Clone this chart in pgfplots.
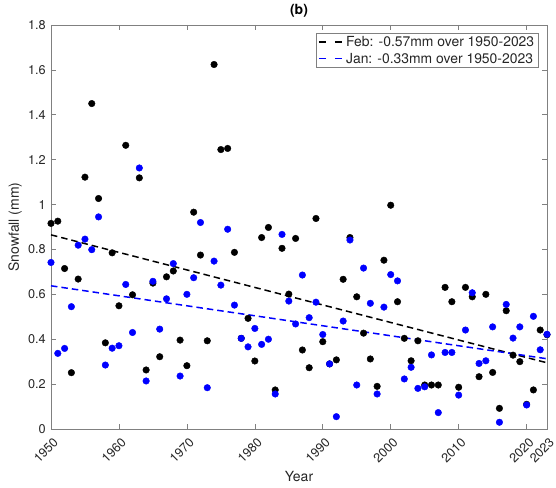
\documentclass[border=0pt]{standalone}
\usepackage{fontspec}
\setmainfont{TeX Gyre Heros}
\usepackage{pgfplots}
\usepackage{pgfplotstable}
\pgfplotsset{compat=1.18}
\definecolor{axgray}{RGB}{38,38,38}
\definecolor{mblue}{RGB}{0,0,255}

\pgfplotstableread{
year val
1950 0.916
1951 0.926
1952 0.715
1953 0.251
1954 0.668
1955 1.122
1956 1.450
1957 1.027
1958 0.384
1959 0.785
1960 0.549
1961 1.264
1962 0.598
1963 1.119
1964 0.263
1965 0.650
1966 0.322
1967 0.678
1968 0.704
1969 0.396
1970 0.282
1971 0.966
1972 0.775
1973 0.393
1974 1.624
1975 1.245
1976 1.250
1977 0.787
1978 0.404
1979 0.493
1980 0.303
1981 0.853
1982 0.898
1983 0.174
1984 0.805
1985 0.601
1986 0.849
1987 0.352
1988 0.273
1989 0.938
1990 0.389
1991 0.290
1992 0.308
1993 0.667
1994 0.853
1995 0.589
1996 0.427
1997 0.312
1998 0.190
1999 0.752
2000 0.997
2001 0.567
2002 0.404
2003 0.304
2004 0.393
2005 0.196
2006 0.196
2007 0.196
2008 0.631
2009 0.567
2010 0.186
2011 0.631
2012 0.589
2013 0.233
2014 0.600
2015 0.252
2016 0.092
2017 0.527
2018 0.329
2019 0.300
2020 0.110
2021 0.174
2022 0.441
2023 0.420
}\febdata

\pgfplotstableread{
year val
1950 0.742
1951 0.337
1952 0.359
1953 0.545
1954 0.819
1955 0.846
1956 0.799
1957 0.945
1958 0.285
1959 0.360
1960 0.371
1961 0.644
1962 0.430
1963 1.163
1964 0.214
1965 0.658
1966 0.445
1967 0.580
1968 0.737
1969 0.236
1970 0.600
1971 0.674
1972 0.920
1973 0.184
1974 0.748
1975 0.641
1976 0.890
1977 0.552
1978 0.404
1979 0.366
1980 0.448
1981 0.377
1982 0.400
1983 0.156
1984 0.867
1985 0.570
1986 0.468
1987 0.686
1988 0.496
1989 0.565
1990 0.421
1991 0.290
1992 0.055
1993 0.481
1994 0.842
1995 0.196
1996 0.717
1997 0.560
1998 0.156
1999 0.543
2000 0.688
2001 0.660
2002 0.223
2003 0.275
2004 0.181
2005 0.188
2006 0.330
2007 0.073
2008 0.341
2009 0.341
2010 0.151
2011 0.441
2012 0.607
2013 0.292
2014 0.304
2015 0.455
2016 0.030
2017 0.555
2018 0.405
2019 0.455
2020 0.107
2021 0.502
2022 0.353
2023 0.422
}\jandata

\begin{document}
\begin{tikzpicture}
\begin{axis}[
  scale only axis, width=496bp, height=404bp,
  at={(0,0)}, anchor=south west,
  xmin=1950, xmax=2023, ymin=0, ymax=1.8,
  clip=false,
  xtick={1950,1960,1970,1980,1990,2000,2010,2020,2023},
  xticklabels={1950,1960,1970,1980,1990,2000,2010,2020,2023},
  ytick={0,0.2,0.4,0.6,0.8,1,1.2,1.4,1.6,1.8},
  yticklabels={0,0.2,0.4,0.6,0.8,1,1.2,1.4,1.6,1.8},
  tick align=inside, major tick length=5bp,
  axis line style={draw=black!50, line width=0.6bp},
  every tick/.style={draw=black!50, line width=0.6bp},
  tick label style={font=\fontsize{12.7bp}{15bp}\selectfont, text=axgray},
  x tick label style={xshift=5bp, yshift=-11bp, rotate=45, anchor=east, inner sep=0pt},
  y tick label style={anchor=east, inner sep=0pt, xshift=-5bp},
  title={(b)},
  title style={at={(0.5,1)}, anchor=south, inner sep=0pt, yshift=2bp,
    font=\fontsize{14bp}{16bp}\selectfont\bfseries},
  xlabel={Year},
  xlabel style={at={(axis description cs:0.5,0)}, anchor=base, yshift=-52bp,
    font=\fontsize{14bp}{16bp}\selectfont, text=axgray},
  ylabel={Snowfall (mm)},
  ylabel style={font=\fontsize{14bp}{16bp}\selectfont, text=axgray, inner sep=2bp, yshift=4bp},
  legend style={at={(1,1)}, anchor=north east, xshift=-8bp, yshift=-8bp,
    draw=black!50, line width=0.6bp, fill=white,
    font=\fontsize{13.9bp}{16bp}\selectfont,
    inner xsep=2bp, inner ysep=0.5bp, row sep=0pt,
    nodes={inner sep=2.5bp, text=axgray}},
  legend cell align=left,
  legend image code/.code={\draw[#1, dash pattern=on 7bp off 9bp] (0bp,0bp) -- (24bp,0bp);},
]
\addplot[only marks, mark=*, mark size=3.3bp, mark options={draw=black, fill=black, line width=0.4bp}, forget plot] table[x=year, y=val] {\febdata};
\addplot[only marks, mark=*, mark size=3.3bp, mark options={draw=mblue, fill=mblue, line width=0.4bp}, forget plot] table[x=year, y=val] {\jandata};
\addplot[black, line width=1.5bp, dash pattern=on 6.5bp off 4bp] coordinates {(1950,0.865) (2023,0.295)};
\addlegendentry{Feb: -0.57mm over 1950-2023}
\addplot[mblue, line width=1.5bp, dash pattern=on 6.5bp off 4bp] coordinates {(1950,0.638) (2023,0.313)};
\addlegendentry{Jan: -0.33mm over 1950-2023}
\end{axis}
\pgfresetboundingbox
\path[use as bounding box] (-51bp,-59bp) rectangle (505bp,429bp);
\end{tikzpicture}
\end{document}
